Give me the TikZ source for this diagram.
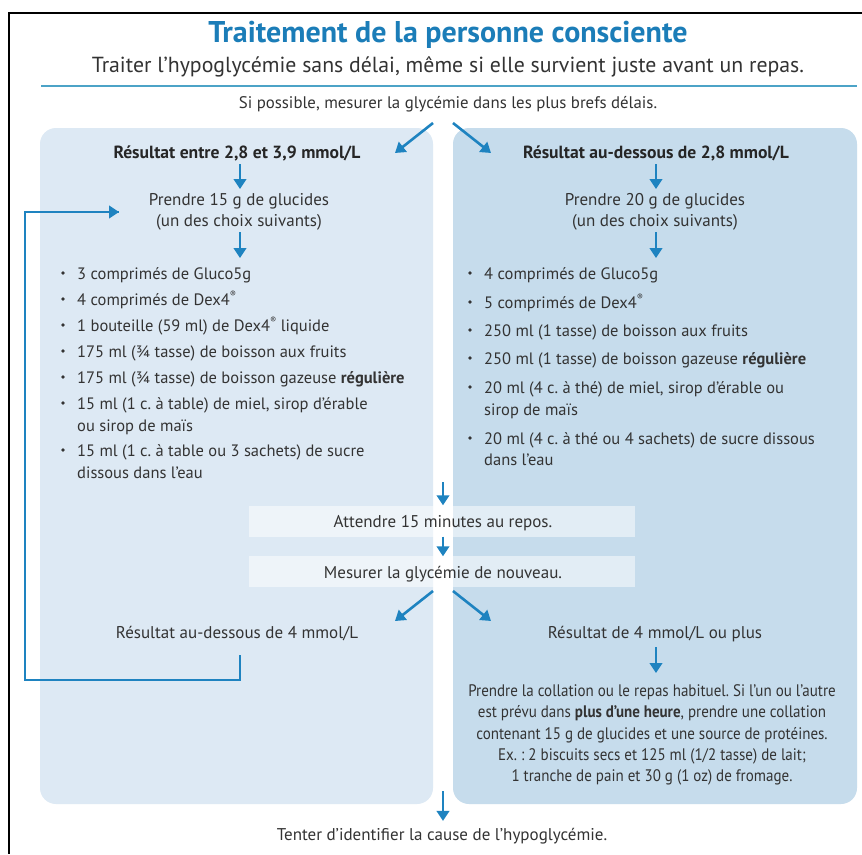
\documentclass[tikz,border=0pt]{standalone}
\usepackage{fontspec}
\setmainfont{PT Sans}
\newfontfamily\condfont[FakeStretch=0.9]{PT Sans}
\usetikzlibrary{arrows.meta}
\frenchspacing
\definecolor{ttl}{HTML}{1B7DB8}
\definecolor{arrc}{HTML}{1E83C0}
\definecolor{txt}{HTML}{333333}
\definecolor{panelL}{HTML}{DDE9F4}
\definecolor{panelR}{HTML}{C6DCEC}
\definecolor{rulec}{HTML}{4CA3C7}
\newcommand{\bitem}[4]{%
  \node[bul] (#1b) at (#2,#3) {};
  \node[itm] (#1) at (#2+14,#3+6) {#4};}
\newcommand{\bcont}[4]{%
  \node[itm] (#1) at (#2+14,#3+6) {#4};}
\newcommand{\regm}{\raisebox{0.45em}{\fontsize{9}{9}\selectfont ®}}
\begin{document}
\begin{tikzpicture}[x=1pt,y=-1pt,
  arr/.style={draw=arrc, line width=2.6pt, -{Triangle[length=10pt,width=12.5pt]}},
  loopline/.style={draw=arrc, line width=2.6pt},
  body/.style={text=txt, font=\fontsize{17}{21}\selectfont, inner sep=0pt},
  itm/.style={text=txt, font=\fontsize{16.5}{21}\selectfont, inner sep=0pt, anchor=base west},
  bul/.style={circle, fill=txt, inner sep=0pt, minimum size=3.8pt},
  hdr/.style={text=black!85, font=\bfseries\fontsize{17.6}{21}\selectfont, inner sep=0pt},
  midbox/.style={fill=white, fill opacity=0.5, text opacity=1, minimum width=386pt, minimum height=31pt, inner sep=0pt},
  para/.style={text=txt, font=\condfont\fontsize{16.7}{21.3}\selectfont, align=center, inner sep=0pt}
]
\useasboundingbox (0,0) rectangle (862,854);
\fill[white] (0,0) rectangle (862,854);
% frame
\draw[black, line width=1.4pt] (862,13) -- (9,13) -- (9,854);
% titles
\node[text=ttl, font=\bfseries\fontsize{30}{34}\selectfont, inner sep=0pt] (title) at (448,35) {Traitement de la personne consciente};
\node[text=txt, font=\fontsize{21.8}{25}\selectfont, inner sep=0pt] (subtitle) at (448,67) {Traiter l’hypoglycémie sans délai, même si elle survient juste avant un repas.};
\coordinate (ruleA) at (41,86);
\coordinate (ruleB) at (857,86);
\draw[rulec, line width=1.6pt] (ruleA) -- (ruleB);
\node[body, font=\fontsize{16.8}{20}\selectfont] (si) at (448,104) {Si possible, mesurer la glycémie dans les plus brefs délais.};
% panels
\fill[panelL, rounded corners=16pt] (40,128) rectangle (433,804);
\fill[panelR, rounded corners=16pt] (453,128) rectangle (857,804);
% arrows from si
\coordinate (siL) at (433,123);
\coordinate (siR) at (453,123);
\coordinate (tipL) at (395,153);
\coordinate (tipR) at (491,153);
\draw[arr] (siL) -- (tipL);
\draw[arr] (siR) -- (tipR);
% left column
\node[hdr] (hL) at (237,153) {Résultat entre 2,8 et 3,9 mmol/L};
\node[body, align=center] (pL) at (239,212) {Prendre 15 g de glucides\\(un des choix suivants)};
\coordinate (aL1s) at (240,164);
\coordinate (aL1e) at (240,189);
\draw[arr] (aL1s) -- (aL1e);
\coordinate (aL2s) at (240,232);
\coordinate (aL2e) at (240,258);
\draw[arr] (aL2s) -- (aL2e);
\bitem{L1}{63}{273}{3 comprimés de Gluco5g}
\bitem{L2}{63}{299}{4 comprimés de Dex4\regm}
\bitem{L3}{63}{325}{1 bouteille (59 ml) de Dex4\regm{} liquide}
\bitem{L4}{63}{351}{175 ml (¾ tasse) de boisson aux fruits}
\bitem{L5}{63}{377}{175 ml (¾ tasse) de boisson gazeuse \textbf{régulière}}
\bitem{L6}{63}{403}{15 ml (1 c. à table) de miel, sirop d’érable}
\bcont{L6c}{63}{425}{ou sirop de maïs}
\bitem{L7}{63}{450}{15 ml (1 c. à table ou 3 sachets) de sucre}
\bcont{L7c}{63}{472}{dissous dans l’eau}
% right column
\node[hdr] (hR) at (656,153) {Résultat au-dessous de 2,8 mmol/L};
\node[body, align=center] (pR) at (655,212) {Prendre 20 g de glucides\\(un des choix suivants)};
\coordinate (aR1s) at (656,164);
\coordinate (aR1e) at (656,189);
\draw[arr] (aR1s) -- (aR1e);
\coordinate (aR2s) at (656,232);
\coordinate (aR2e) at (656,258);
\draw[arr] (aR2s) -- (aR2e);
\bitem{R1}{470}{273}{4 comprimés de Gluco5g}
\bitem{R2}{470}{302}{5 comprimés de Dex4\regm}
\bitem{R3}{470}{330}{250 ml (1 tasse) de boisson aux fruits}
\bitem{R4}{470}{358}{250 ml (1 tasse) de boisson gazeuse \textbf{régulière}}
\bitem{R5}{470}{387}{20 ml (4 c. à thé) de miel, sirop d’érable ou}
\bcont{R5c}{470}{409}{sirop de maïs}
\bitem{R6}{470}{438}{20 ml (4 c. à thé ou 4 sachets) de sucre dissous}
\bcont{R6c}{470}{459}{dans l’eau}
% middle
\coordinate (m0) at (443,482);
\node[midbox] (wait) at (442,521) {};
\node[body] (waitT) at (443,523) {Attendre 15 minutes au repos.};
\node[midbox] (meas) at (442,571) {};
\node[body] (measT) at (443,574) {Mesurer la glycémie de nouveau.};
\draw[arr] (m0) -- (wait.north -| m0);
\draw[arr] (wait.south -| m0) -- ([yshift=-1pt]meas.north -| m0);
\coordinate (mL) at (433,591);
\coordinate (mR) at (453,591);
\coordinate (mtipL) at (395,621);
\coordinate (mtipR) at (491,621);
\draw[arr] (mL) -- (mtipL);
\draw[arr] (mR) -- (mtipR);
\node[body] (resL) at (237,634) {Résultat au-dessous de 4 mmol/L};
\node[body] (resR) at (655,634) {Résultat de 4 mmol/L ou plus};
\coordinate (aR3s) at (656,647);
\coordinate (aR3e) at (656,673);
\draw[arr] (aR3s) -- (aR3e);
\node[para] (coll) at (652,735) {Prendre la collation ou le repas habituel. Si l’un ou l’autre\\est prévu dans \textbf{plus d’une heure}, prendre une collation\\contenant 15 g de glucides et une source de protéines.\\Ex. : 2 biscuits secs et 125 ml (1/2 tasse) de lait;\\1 tranche de pain et 30 g (1 oz) de fromage.};
% loop back
\coordinate (lp0) at (240,655);
\coordinate (lp1) at (240,680);
\coordinate (lp2) at (25,680);
\coordinate (lp3) at (25,212);
\coordinate (lpE) at (119,212);
\draw[loopline] (lp0) -- (lp1) -- (lp2) -- (lp3) -- (lpE);
\draw[arr] (lp3) -- (lpE);
% bottom
\coordinate (b0) at (443,791);
\node[body] (cause) at (442,836) {Tenter d’identifier la cause de l’hypoglycémie.};
\draw[arr] (b0) -- ([yshift=7pt]cause.north -| b0);
\end{tikzpicture}
\end{document}
